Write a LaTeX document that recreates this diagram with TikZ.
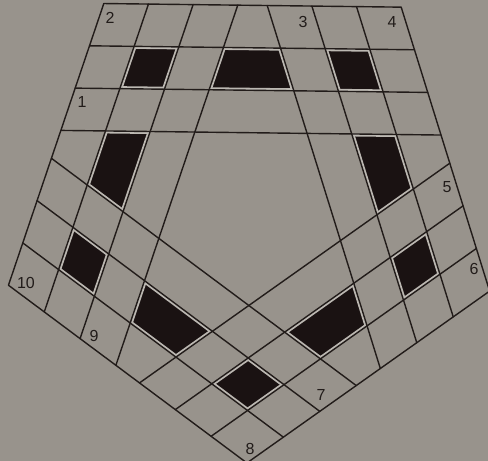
\documentclass[tikz,border=0pt]{standalone}
\usepackage{fontspec}
\setmainfont{Liberation Sans}
\usetikzlibrary{calc}
\definecolor{paper}{RGB}{152,147,140}
\definecolor{ink}{RGB}{34,28,26}
\definecolor{cellfill}{RGB}{26,18,18}
\definecolor{halo}{RGB}{188,184,178}
\newcommand{\xcut}[4]{intersection cs: first line={(#1)--(#2)}, second line={(#3)--(#4)}}
\begin{document}
\begin{tikzpicture}[x=1pt,y=1pt,
  gridline/.style={draw=ink, line width=1.4pt, line cap=round, line join=round},
  haloline/.style={draw=halo, line width=5pt},
  blackcell/.style={fill=cellfill},
  numlabel/.style={font=\fontsize{16}{18}\selectfont, text=ink, inner sep=0pt}]
\fill[paper] (0,0) rectangle (488,461);
\useasboundingbox (0,0) rectangle (488,461);
\coordinate (O) at (250,251);
% pentagon vertices at the four levels of each band
\foreach \k/\ang in {0/125.3,1/53.3,2/-18.7,3/-90.7,4/-162.7}{
  \foreach \lv in {0,1,2,3}{
    \pgfmathsetmacro{\rad}{253-52.5*\lv}
    \coordinate (p\k\lv) at ($(O)+(\ang:\rad)$);
  }
}
% line end points and cell corners
\foreach \k in {0,...,4}{
  \pgfmathtruncatemacro{\km}{mod(\k+4,5)}
  \pgfmathtruncatemacro{\kp}{mod(\k+1,5)}
  \pgfmathtruncatemacro{\kq}{mod(\k+2,5)}
  \foreach \lv in {1,2,3}{
    \coordinate (S\k\lv) at (\xcut{p\k\lv}{p\kp\lv}{p\km0}{p\k0});
    \coordinate (E\k\lv) at (\xcut{p\k\lv}{p\kp\lv}{p\kp0}{p\kq0});
  }
  \coordinate (Ca\k) at (p\k1);
  \coordinate (Cb\k) at (\xcut{p\km1}{p\k1}{p\k2}{p\kp2});
  \coordinate (Cc\k) at (p\k2);
  \coordinate (Cd\k) at (\xcut{p\km2}{p\k2}{p\k1}{p\kp1});
  \coordinate (Ma\k) at (\xcut{p\k1}{p\kp1}{p\km3}{p\k3});
  \coordinate (Mb\k) at (\xcut{p\k2}{p\kp2}{p\km3}{p\k3});
  \coordinate (Mc\k) at (\xcut{p\k2}{p\kp2}{p\kp3}{p\kq3});
  \coordinate (Md\k) at (\xcut{p\k1}{p\kp1}{p\kp3}{p\kq3});
}
% black cells
\foreach \k in {0,...,4}{
  \fill[blackcell] (Ca\k)--(Cb\k)--(Cc\k)--(Cd\k)--cycle;
  \fill[blackcell] (Ma\k)--(Mb\k)--(Mc\k)--(Md\k)--cycle;
}
% light margins inside the black cells
\begin{scope}
\clip \foreach \k in {0,...,4}{ (Ca\k)--(Cb\k)--(Cc\k)--(Cd\k)--cycle (Ma\k)--(Mb\k)--(Mc\k)--(Md\k)--cycle };
\foreach \k in {0,...,4}{\foreach \lv in {1,2,3}{\draw[haloline] (S\k\lv)--(E\k\lv);}}
\end{scope}
% grid lines
\draw[gridline] (p00)--(p10)--(p20)--(p30)--(p40)--cycle;
\foreach \k in {0,...,4}{\foreach \lv in {1,2,3}{\draw[gridline] (S\k\lv)--(E\k\lv);}}
% numbers
\node[numlabel] (n1) at (82,359) {1};
\node[numlabel] (n2) at (110,443) {2};
\node[numlabel] (n3) at (303,439) {3};
\node[numlabel] (n4) at (392,439) {4};
\node[numlabel] (n5) at (447,274) {5};
\node[numlabel] (n6) at (474,192) {6};
\node[numlabel] (n7) at (321,66) {7};
\node[numlabel] (n8) at (250,12) {8};
\node[numlabel] (n9) at (94,125) {9};
\node[numlabel] (n10) at (26,178) {10};
\end{tikzpicture}
\end{document}
